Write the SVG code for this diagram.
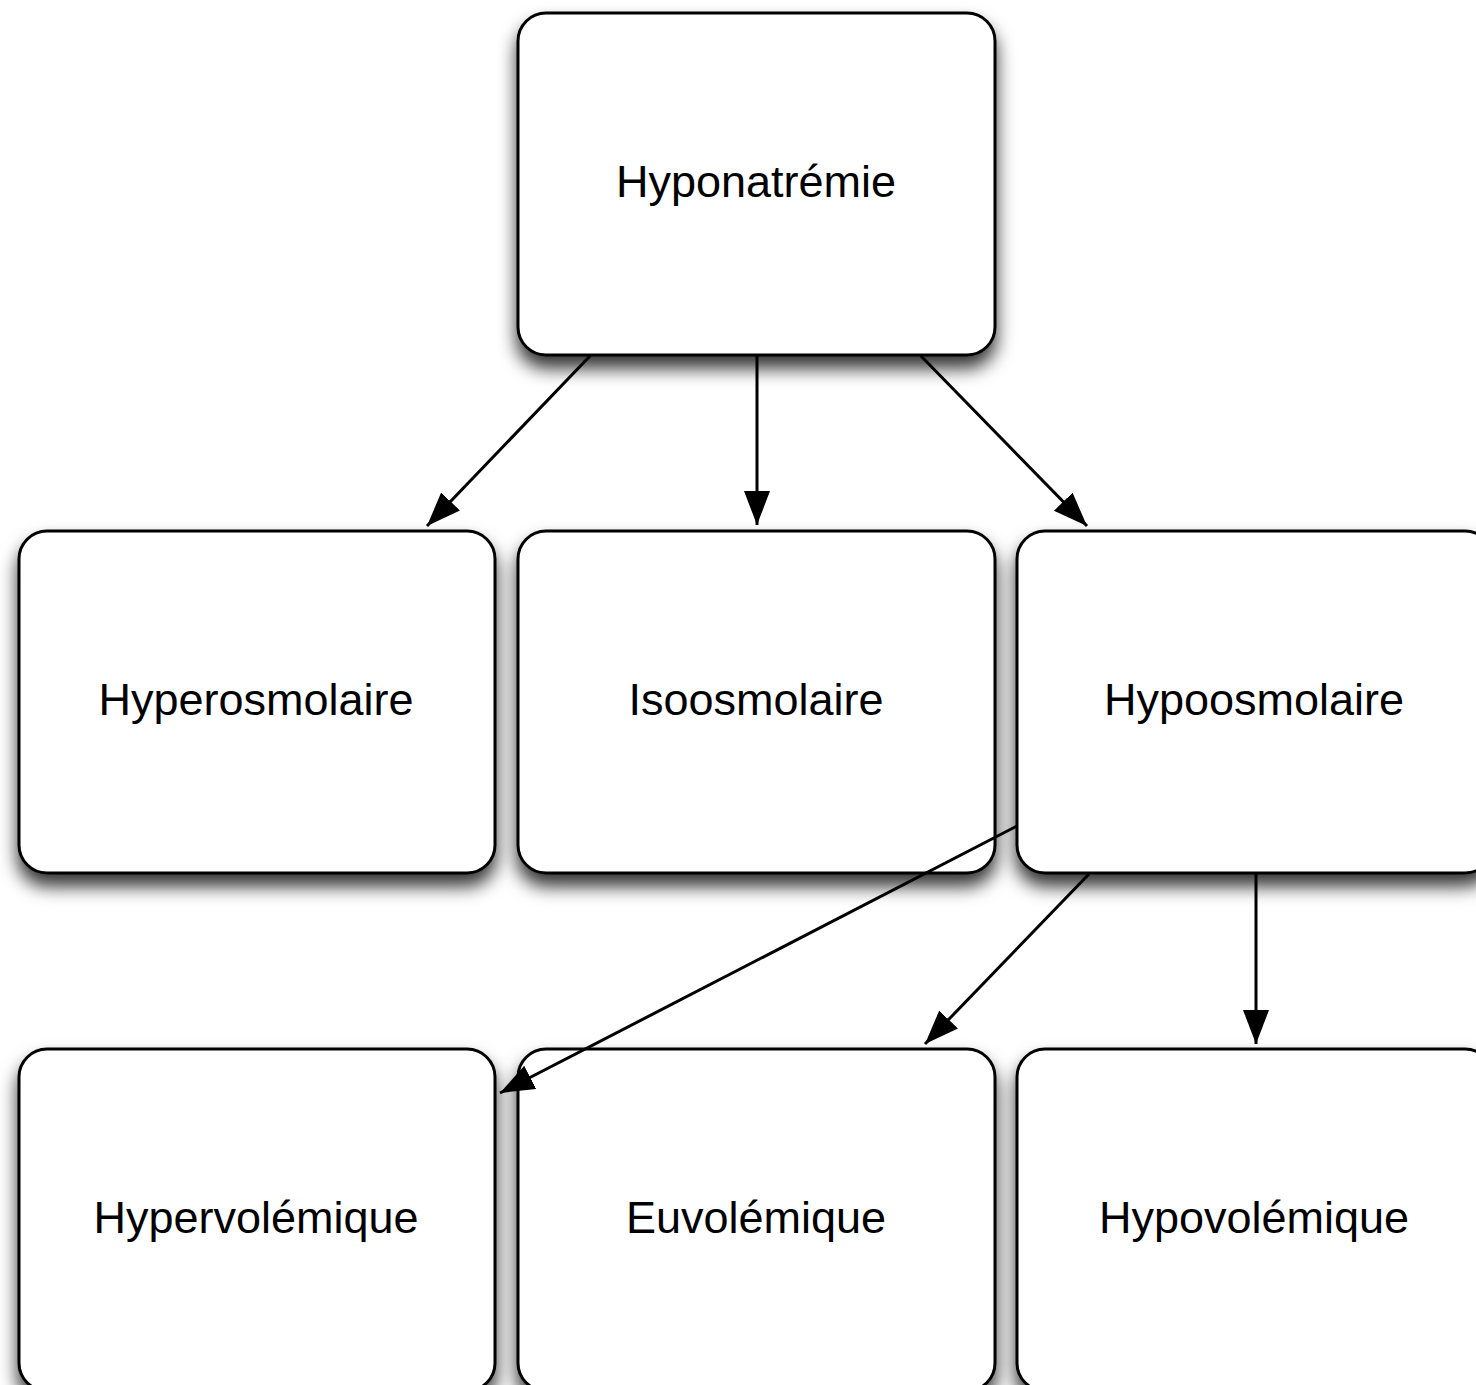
<svg xmlns="http://www.w3.org/2000/svg" width="1476" height="1385" viewBox="0 0 1476 1385">
<style>
.box{fill:#fff;stroke:#000;stroke-width:3;filter:url(#sh)}
.lbl{font-family:"Liberation Sans",Arial,sans-serif;font-size:45px;fill:#000;text-anchor:middle}
.con{stroke:#000;stroke-width:3;fill:none;marker-end:url(#ah)}
</style>
<defs>
<filter id="sh" x="-20%" y="-20%" width="140%" height="150%">
<feDropShadow dx="0" dy="12" stdDeviation="9" flood-color="#000" flood-opacity="0.8"/>
</filter>
<marker id="ah" markerUnits="userSpaceOnUse" markerWidth="36" markerHeight="28" refX="34" refY="13" orient="auto" viewBox="0 0 36 28">
<path d="M0,0 L34,13 L0,26 z" fill="#000"/>
</marker>
</defs>
<rect width="1476" height="1385" fill="#fff"/>
<g id="n-hyponatremie"><rect class="box" x="518" y="13" width="477" height="342" rx="28"/><text class="lbl" x="756" y="197">Hyponatrémie</text></g>
<g id="n-hyperosmolaire"><rect class="box" x="19" y="531" width="476" height="342" rx="28"/><text class="lbl" x="256" y="715">Hyperosmolaire</text></g>
<g id="n-isoosmolaire"><rect class="box" x="518" y="531" width="477" height="342" rx="28"/><text class="lbl" x="756" y="715">Isoosmolaire</text></g>
<g id="n-hypoosmolaire"><rect class="box" x="1017" y="531" width="476" height="342" rx="28"/><text class="lbl" x="1254" y="715">Hypoosmolaire</text></g>
<g id="n-hypervolemique"><rect class="box" x="19" y="1049" width="476" height="342" rx="28"/><text class="lbl" x="256" y="1233">Hypervolémique</text></g>
<g id="n-euvolemique"><rect class="box" x="518" y="1049" width="477" height="342" rx="28"/><text class="lbl" x="756" y="1233">Euvolémique</text></g>
<g id="n-hypovolemique"><rect class="box" x="1017" y="1049" width="476" height="342" rx="28"/><text class="lbl" x="1254" y="1233">Hypovolémique</text></g>
<g id="connectors">
<line class="con" x1="590" y1="356" x2="427" y2="526"/>
<line class="con" x1="757" y1="356" x2="757" y2="525"/>
<line class="con" x1="921" y1="356" x2="1087" y2="526"/>
<line class="con" x1="1017" y1="826" x2="500" y2="1093"/>
<line class="con" x1="1089" y1="874" x2="925" y2="1044"/>
<line class="con" x1="1256" y1="874" x2="1256" y2="1044"/>
</g>
</svg>
